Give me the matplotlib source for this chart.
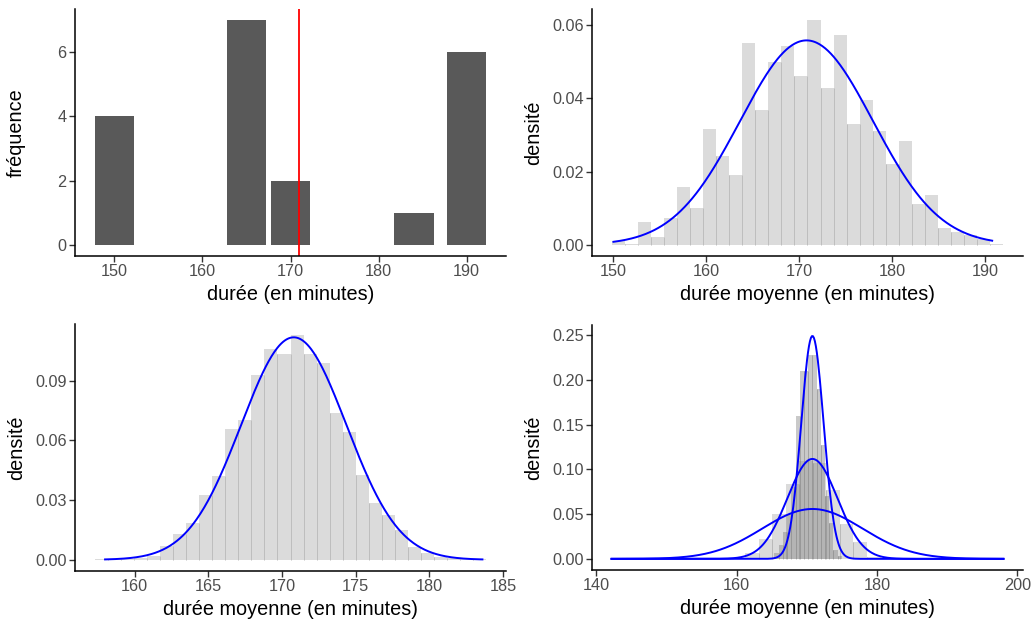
import numpy as np
import matplotlib
matplotlib.use('Agg')
import matplotlib.pyplot as plt
from matplotlib.ticker import FormatStrFormatter, MultipleLocator

plt.rcParams['font.family'] = ['Liberation Sans', 'DejaVu Sans']

# panneau 1 : durées observées
durees = [150, 165, 170, 184, 190]
frequences = [4, 7, 2, 1, 6]
moyenne = np.average(durees, weights=frequences)

# panneau 2 : moyennes, échantillons de taille 1
h1_debut, h1_largeur = 149.8, 1.407
h1_dens = [0.0011, 0.0003, 0.0063, 0.0022, 0.0072, 0.0158, 0.0101, 0.0316,
           0.0243, 0.0191, 0.0551, 0.0368, 0.0499, 0.0542, 0.0461, 0.0613,
           0.0428, 0.0573, 0.0330, 0.0395, 0.0311, 0.0221, 0.0284, 0.0110,
           0.0136, 0.0046, 0.0034, 0.0026, 0.0017, 0.0002]

# panneau 3 : moyennes, échantillons de taille 4
h4_debut, h4_largeur = 157.29, 0.886
h4_dens = [0.0003, 0.0002, 0.0005, 0.0008, 0.0020, 0.0067, 0.0127, 0.0183,
           0.0323, 0.0419, 0.0655, 0.0700, 0.0927, 0.1057, 0.1032, 0.1128,
           0.1032, 0.0990, 0.0736, 0.0640, 0.0426, 0.0285, 0.0223, 0.0149,
           0.0064, 0.0035, 0.0015, 0.0007, 0.0005, 0.0003]

# panneau 4 : deux histogrammes superposés
p4a_debut, p4a_largeur = 161.2, 1.93
p4a_dens = [0.007, 0.0226, 0.0505, 0.084, 0.110, 0.107, 0.077, 0.039, 0.019, 0.002]
p4b_debut, p4b_largeur = 165.4, 0.6
p4b_dens = [0.006, 0.015, 0.030, 0.050, 0.080, 0.160, 0.210, 0.210, 0.228,
            0.228, 0.190, 0.127, 0.070, 0.040, 0.0096, 0.003]

# lois normales
mu = 170.8
sd_1, sd_4, sd_20 = 7.15, 3.57, 1.6
courbe_1 = (150.0, 190.8)
courbe_4 = (158.0, 183.6)
courbe_tout = (142.2, 198.0)


def dnorm(x, m, s):
    return np.exp(-0.5 * ((x - m) / s) ** 2) / (s * np.sqrt(2 * np.pi))


def courbe(ax, lims, s):
    x = np.linspace(lims[0], lims[1], 400)
    ax.plot(x, dnorm(x, mu, s), color='blue', lw=1.4)


def hist(ax, debut, largeur, dens, face, trait, alpha=1.0):
    dens = np.asarray(dens)
    gauche = debut + largeur * np.arange(len(dens))
    ax.bar(gauche, dens, width=largeur, align='edge', color=face,
           alpha=alpha, linewidth=0)
    # séparations entre classes, hautes comme la plus basse des deux
    ax.vlines(gauche[1:], 0, np.minimum(dens[:-1], dens[1:]),
              color=trait, lw=0.7, alpha=alpha)


def style(ax):
    ax.spines[['top', 'right']].set_visible(False)
    ax.spines[['left', 'bottom']].set_linewidth(1.1)
    ax.tick_params(length=4, width=1, color='#333333', labelcolor='#4d4d4d',
                   labelsize=11.7, pad=2)
    ax.use_sticky_edges = False
    ax.margins(0.05)
    ax.yaxis.set_label_coords(-0.114, 0.5)


W, H = 1033, 622


def pos(g, h, d, b):
    return [g / W, 1 - b / H, (d - g) / W, (b - h) / H]


fig = plt.figure(figsize=(W / 100, H / 100), dpi=100)
ax1 = fig.add_axes(pos(75, 9, 506, 256))
ax2 = fig.add_axes(pos(592, 9, 1023, 256))
ax3 = fig.add_axes(pos(75, 324, 506, 571))
ax4 = fig.add_axes(pos(592, 325, 1023, 570))

ax1.bar(durees, frequences, width=4.5, color='#595959')
ax1.axvline(moyenne, color='red', lw=1.3)
ax1.set_xlabel('durée (en minutes)', fontsize=14.3)
ax1.set_ylabel('fréquence', fontsize=14.3)
ax1.xaxis.set_major_locator(MultipleLocator(10))
ax1.yaxis.set_major_locator(MultipleLocator(2))

hist(ax2, h1_debut, h1_largeur, h1_dens, '#dbdbdb', '#bebebe')
courbe(ax2, courbe_1, sd_1)
ax2.xaxis.set_major_locator(MultipleLocator(10))
ax2.yaxis.set_major_locator(MultipleLocator(0.02))

hist(ax3, h4_debut, h4_largeur, h4_dens, '#dbdbdb', '#bebebe')
courbe(ax3, courbe_4, sd_4)
ax3.xaxis.set_major_locator(MultipleLocator(5))
ax3.yaxis.set_major_locator(MultipleLocator(0.03))

hist(ax4, p4a_debut, p4a_largeur, p4a_dens, '#7f7f7f', '#606060', alpha=0.28)
hist(ax4, p4b_debut, p4b_largeur, p4b_dens, '#7f7f7f', '#707070', alpha=0.42)
for s in (sd_1, sd_4, sd_20):
    courbe(ax4, courbe_tout, s)
ax4.xaxis.set_major_locator(MultipleLocator(20))
ax4.yaxis.set_major_locator(MultipleLocator(0.05))

for ax in (ax2, ax3, ax4):
    ax.set_xlabel('durée moyenne (en minutes)', fontsize=14.3)
    ax.set_ylabel('densité', fontsize=14.3)
    ax.yaxis.set_major_formatter(FormatStrFormatter('%.2f'))

for ax in (ax1, ax2, ax3, ax4):
    style(ax)
fig.savefig('out.png', dpi=100)
